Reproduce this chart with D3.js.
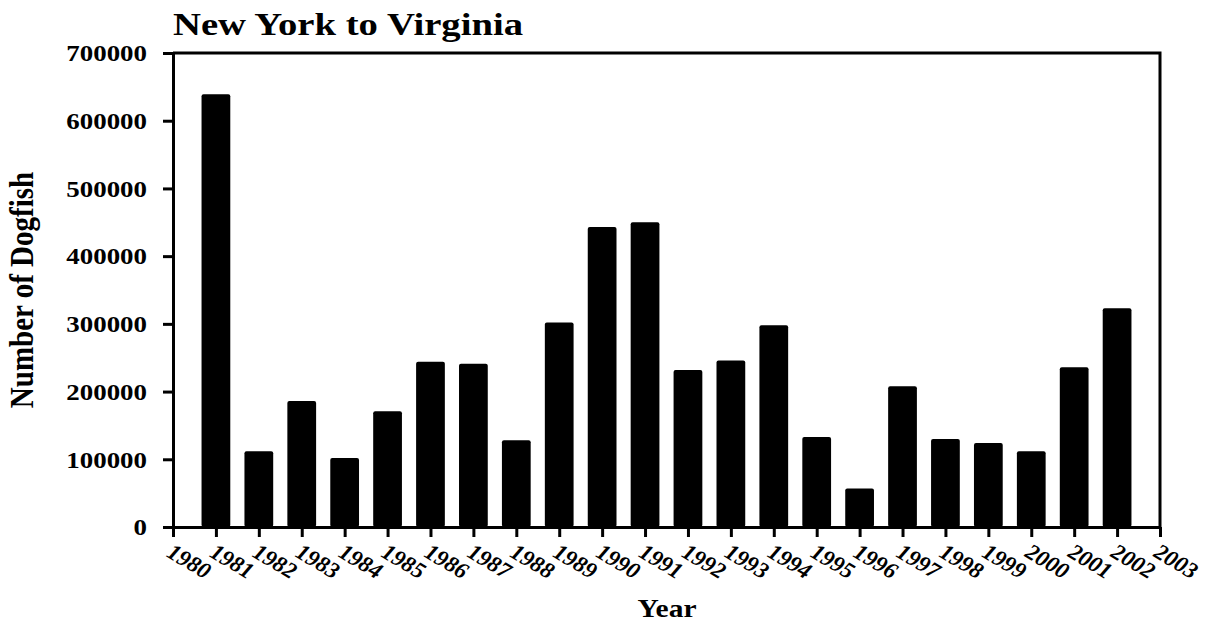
<!DOCTYPE html>
<html>
<head>
<meta charset="utf-8">
<script src="https://cdn.jsdelivr.net/npm/d3@7"></script>
<style>
    body { margin: 0; background: #fff; }
    svg { display: block; font-family: 'Liberation Serif', 'Times New Roman', serif; }
</style>
</head>
<body>
<div id="chart"></div>
<script>
const years = [1981, 1982, 1983, 1984, 1985, 1986, 1987, 1988, 1989, 1990, 1991,
    1992, 1993, 1994, 1995, 1996, 1997, 1998, 1999, 2000, 2001, 2002];

const counts = [639000, 112000, 186000, 102000, 171000, 244000, 241000, 128000, 302000, 443000, 450000,
    232000, 246000, 298000, 133000, 57000, 208000, 130000, 124000, 112000, 236000, 323000];

const yearTicks = [1980, 1981, 1982, 1983, 1984, 1985, 1986, 1987, 1988, 1989, 1990, 1991,
    1992, 1993, 1994, 1995, 1996, 1997, 1998, 1999, 2000, 2001, 2002, 2003];

const countTicks = [0, 100000, 200000, 300000, 400000, 500000, 600000, 700000];

const svgWidth = 1209;
const svgHeight = 623;

const margin = {
    top: 53,
    left: 173,
    right: 49,
    bottom: 96
};

const width = svgWidth - margin.left - margin.right;
const height = svgHeight - margin.top - margin.bottom;

// the original picture is stretched sideways, so the text is too
const stretch = 1.17;

const svg = d3.select('#chart').append('svg')
    .attr('width', svgWidth)
    .attr('height', svgHeight);

const chart = svg.append('g')
    .attr('transform', `translate(${margin.left},${margin.top})`);

const x = d3.scaleLinear()
    .domain([1980, 2003])
    .range([0, width]);

const y = d3.scaleLinear()
    .domain([0, 700000])
    .range([height, 0]);

const barWidth = (x(1981) - x(1980)) * 0.67;

// Bars
chart.selectAll('rect')
    .data(years)
    .enter()
    .append('rect')
    .attr('x', (d, i) => x(d) - barWidth / 2)
    .attr('y', (d, i) => y(counts[i]))
    .attr('width', barWidth)
    .attr('height', (d, i) => height - y(counts[i]))
    .attr('rx', 2)
    .attr('fill', '#000');

// Frame on top and right
chart.append('path')
    .attr('d', `M0,${y(700000)}H${width}V${height}`)
    .attr('fill', 'none')
    .attr('stroke', '#000')
    .attr('stroke-width', 3);

// Y axis
const yAxis = chart.append('g')
    .call(d3.axisLeft(y).tickValues(countTicks).tickSize(10).tickSizeOuter(0).tickFormat(d3.format('d')))
    .attr('font-family', null)
    .attr('font-size', null);

yAxis.select('.domain').attr('stroke-width', 3);
yAxis.selectAll('.tick line').attr('stroke-width', 3);
yAxis.selectAll('.tick text')
    .attr('x', 0)
    .attr('dy', '0.34em')
    .attr('transform', `translate(-26,0) scale(${stretch},1)`)
    .style('font-size', '23px')
    .style('font-weight', 'bold')
    .attr('fill', '#000');

// X axis
const xAxis = chart.append('g')
    .attr('transform', `translate(0,${height})`)
    .call(d3.axisBottom(x).tickValues(yearTicks).tickSize(10).tickSizeOuter(0).tickFormat(d3.format('d')))
    .attr('font-family', null)
    .attr('font-size', null);

xAxis.select('.domain').attr('stroke-width', 3);
xAxis.selectAll('.tick line').attr('stroke-width', 3);
xAxis.selectAll('.tick text')
    .attr('x', 0)
    .attr('y', 0)
    .attr('dy', 0)
    .attr('text-anchor', 'start')
    .attr('transform', 'translate(-8,29) rotate(31)')
    .style('font-size', '23px')
    .style('font-weight', 'bold')
    .style('font-style', 'italic')
    .attr('fill', '#000');

svg.selectAll('.domain, .tick line').attr('stroke', '#000');

// Title
svg.append('text')
    .attr('transform', `translate(173,35) scale(1.21,1)`)
    .style('font-size', '32px')
    .style('font-weight', 'bold')
    .text('New York to Virginia');

// Axis titles
svg.append('text')
    .attr('transform', `translate(33,${margin.top + height / 2}) rotate(-90) scale(1,1.13)`)
    .style('text-anchor', 'middle')
    .style('font-size', '29px')
    .style('font-weight', 'bold')
    .text('Number of Dogfish');

svg.append('text')
    .attr('transform', `translate(667,617) scale(${stretch + 0.01},1)`)
    .style('text-anchor', 'middle')
    .style('font-size', '25px')
    .style('font-weight', 'bold')
    .text('Year');
</script>
</body>
</html>
